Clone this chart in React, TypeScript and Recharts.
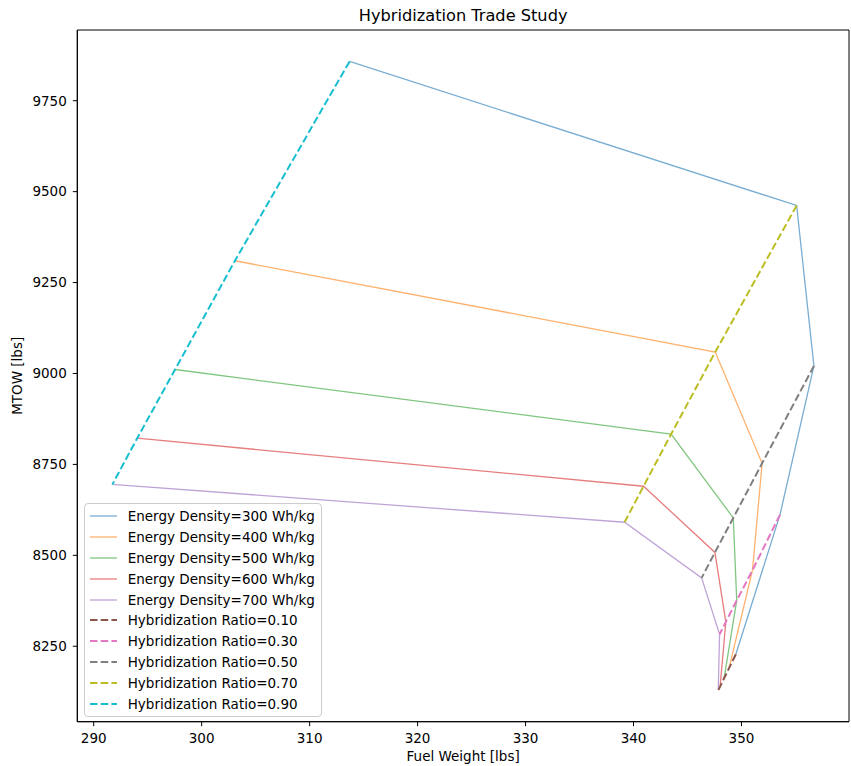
import React from "react";
import { LineChart, Line, XAxis, YAxis, ReferenceArea } from "recharts";

/* ─── data ─── */
const ENERGY_DENSITIES = [300, 400, 500, 600, 700]; // Wh/kg
const HYBRID_RATIOS = [0.1, 0.3, 0.5, 0.7, 0.9];

// rows: energy density, cols: hybridization ratio
const FUEL_WEIGHT = [
  [349.48, 353.57, 356.71, 355.11, 313.7],
  [348.85, 351.02, 351.91, 347.57, 303.08],
  [348.39, 349.56, 349.24, 343.48, 297.54],
  [348.02, 348.55, 347.54, 340.93, 294.03],
  [347.85, 347.97, 346.31, 339.17, 291.73],
];
const MTOW = [
  [8228, 8612, 9021, 9462, 9858],
  [8190, 8459, 8753, 9059, 9310],
  [8162, 8376, 8603, 8833, 9011],
  [8139, 8317, 8508, 8690, 8822],
  [8129, 8283, 8438, 8591, 8695],
];

const X_TICKS = [290, 300, 310, 320, 330, 340, 350];
const Y_TICKS = [8250, 8500, 8750, 9000, 9250, 9500, 9750];

const ED_COLORS = ["#1f77b4", "#ff7f0e", "#2ca02c", "#d62728", "#9467bd"];
const HR_COLORS = ["#8c564b", "#e377c2", "#7f7f7f", "#bcbd22", "#17becf"];

const FONT = "'DejaVu Sans', sans-serif";
const FS = 13.5;

// matplotlib-like 5% padding
function pad(vals: number[]) {
  const lo = Math.min(...vals);
  const hi = Math.max(...vals);
  const m = (hi - lo) * 0.05;
  return [lo - m, hi + m];
}
const X_DOMAIN = pad(FUEL_WEIGHT.flat());
const Y_DOMAIN = pad(MTOW.flat());

const edSeries = ENERGY_DENSITIES.map((ed, i) => ({
  name: `Energy Density=${ed} Wh/kg`,
  color: ED_COLORS[i],
  dashed: false,
  data: HYBRID_RATIOS.map((_, j) => ({ x: FUEL_WEIGHT[i][j], y: MTOW[i][j] })),
}));
const hrSeries = HYBRID_RATIOS.map((hr, j) => ({
  name: `Hybridization Ratio=${hr.toFixed(2)}`,
  color: HR_COLORS[j],
  dashed: true,
  data: ENERGY_DENSITIES.map((_, i) => ({ x: FUEL_WEIGHT[i][j], y: MTOW[i][j] })),
}));
const allSeries = [...edSeries, ...hrSeries];

// chart pinned to the viewport corner so nothing overflows the page
const W = 851;
const H = 766;
const M = { top: 30, right: 2, bottom: 0, left: 0 };
const Y_AXIS_W = 77.3;
const X_AXIS_H = 44.3;

function lineProps(s: { color: string; dashed: boolean }) {
  return s.dashed
    ? { stroke: s.color, strokeWidth: 2, strokeDasharray: "7.5 3.2" }
    : { stroke: s.color, strokeWidth: 1.3, strokeOpacity: 0.6 };
}

export default function App() {
  const plotLeft = M.left + Y_AXIS_W;
  const plotW = W - plotLeft - M.right;
  return (
    <div style={{ position: "fixed", left: 0, top: 0, width: W, height: H, fontFamily: FONT, background: "#fff" }}>
      <div
        style={{
          position: "absolute", left: plotLeft, width: plotW, top: 7,
          textAlign: "center", fontSize: 16.2, lineHeight: "18px", color: "#000",
        }}
      >
        Hybridization Trade Study
      </div>
      <LineChart width={W} height={H} margin={M}>
        <XAxis
          type="number"
          dataKey="x"
          domain={X_DOMAIN}
          ticks={X_TICKS}
          height={X_AXIS_H}
          tickSize={4.5}
          tickMargin={7.5}
          stroke="#000"
          tick={{ fill: "#000", fontSize: FS, fontFamily: FONT }}
          label={{ value: "Fuel Weight [lbs]", position: "insideBottom", offset: 5, fill: "#000", fontSize: FS, fontFamily: FONT }}
        />
        <YAxis
          type="number"
          dataKey="y"
          domain={Y_DOMAIN}
          ticks={Y_TICKS}
          width={Y_AXIS_W}
          tickSize={4.5}
          tickMargin={6}
          stroke="#000"
          tick={{ fill: "#000", fontSize: FS, fontFamily: FONT }}
          label={{ value: "MTOW [lbs]", angle: -90, position: "insideLeft", offset: 17.5, fill: "#000", fontSize: FS, fontFamily: FONT, style: { textAnchor: "middle" } }}
        />
        <ReferenceArea
          x1={X_DOMAIN[0]} x2={X_DOMAIN[1]} y1={Y_DOMAIN[0]} y2={Y_DOMAIN[1]}
          fill="none" stroke="#000" strokeWidth={1} fillOpacity={0}
        />
        {allSeries.map((s) => (
          <Line
            key={s.name}
            data={s.data}
            dataKey="y"
            name={s.name}
            type="linear"
            dot={false}
            activeDot={false}
            isAnimationActive={false}
            {...lineProps(s)}
          />
        ))}
      </LineChart>
      {/* legend, lower left like matplotlib's 'best' */}
      <div
        style={{
          position: "absolute", left: 83.5, top: 502.5,
          padding: "2px 6px 2px 5.4px",
          border: "1px solid #cccccc", borderRadius: 4,
          background: "rgba(255,255,255,0.8)", fontSize: FS, color: "#000",
        }}
      >
        {allSeries.map((s) => (
          <div key={s.name} style={{ display: "flex", alignItems: "center", height: 20.9 }}>
            <svg width={27} height={10} style={{ marginRight: 10.8 }}>
              <line x1={0} x2={27} y1={5} y2={5} {...lineProps(s)} />
            </svg>
            <span style={{ whiteSpace: "nowrap" }}>{s.name}</span>
          </div>
        ))}
      </div>
    </div>
  );
}
